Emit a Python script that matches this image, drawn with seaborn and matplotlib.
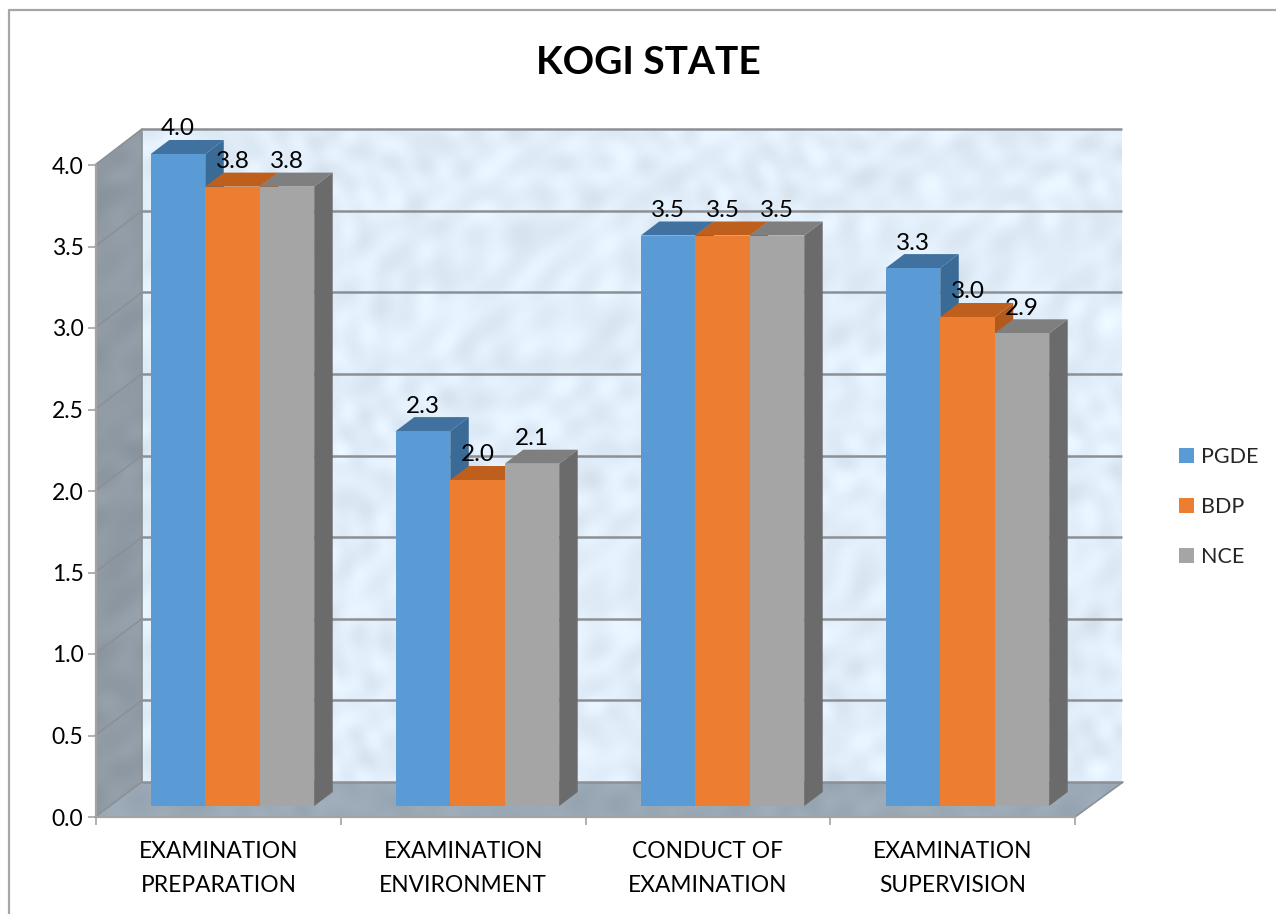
import numpy as np
import pandas as pd
import seaborn as sns
import matplotlib.pyplot as plt
from matplotlib.patches import Polygon

categories = ['EXAMINATION\nPREPARATION', 'EXAMINATION\nENVIRONMENT',
              'CONDUCT OF\nEXAMINATION', 'EXAMINATION\nSUPERVISION']
programmes = ['PGDE', 'BDP', 'NCE']
pgde = [4.0, 2.3, 3.5, 3.3]
bdp = [3.8, 2.0, 3.5, 3.0]
nce = [3.8, 2.1, 3.5, 2.9]
y_ticks = [0.0, 0.5, 1.0, 1.5, 2.0, 2.5, 3.0, 3.5, 4.0]

front_colors = ['#5B9BD5', '#ED7D31', '#A5A5A5']
top_colors = ['#41729F', '#BE5F1E', '#7F7F7F']
side_colors = ['#3A6A96', '#B25A1C', '#6B6B6B']
GRID = '#8C9094'
AXIS = '#A3A3A3'

W, H = 1276, 914

sns.set_theme(style='white')
plt.rcParams['font.family'] = ['Lato', 'DejaVu Sans']

fig = plt.figure(figsize=(W / 100, H / 100), dpi=100)


def px_axes(left, top, right, bottom, z):
    # axes placed by pixel edges of the picture
    a = fig.add_axes([left / W, 1 - bottom / H, (right - left) / W, (bottom - top) / H])
    a.set_zorder(z)
    a.patch.set_alpha(0)
    return a


def mottle(base, amount):
    # soft paper-like texture, many crossed waves so no plaid shows up
    yy, xx = np.mgrid[0:H // 2, 0:W // 2]
    waves = [(0.071, 0.193, 0.4), (0.233, 0.047, 1.9), (0.157, -0.121, 3.1), (-0.089, 0.271, 0.7),
             (0.313, 0.127, 2.2), (0.037, -0.347, 5.1), (0.401, -0.059, 4.3), (-0.211, -0.283, 1.3),
             (0.113, 0.029, 2.9), (0.019, 0.103, 0.1), (0.277, 0.367, 3.7), (-0.331, 0.173, 5.9)]
    wave = np.zeros(xx.shape)
    warp = np.sin(xx * 0.031 + 1) * 6 + np.sin(yy * 0.043) * 6
    for fx, fy, ph in waves:
        wave += np.sin(fx * (xx + warp) + fy * (yy - warp) + ph)
    wave = wave / np.abs(wave).max()
    rgb = np.array(base)[None, None, :] + wave[:, :, None] * amount
    return np.clip(rgb, 0, 255).astype(np.uint8)


# layer 1: frame, back wall, side wall and floor of the 3D box
bg = px_axes(0, 0, W, H, 0)
bg.set_axis_off()
shapes = [
    ([(142, 129), (1122, 129), (1122, 782), (142, 782)], (226, 238, 250), 15),
    ([(95, 165), (142, 129), (142, 782), (96, 817)], (144, 155, 165), 10),
    ([(96, 817), (142, 782), (1123, 782), (1075, 817)], (156, 170, 184), 10),
]
for pts, base, amount in shapes:
    im = bg.imshow(mottle(base, amount), extent=(0, W, H, 0), aspect='auto', zorder=1,
                   interpolation='bilinear')
    im.set_clip_path(Polygon(pts, transform=bg.transData))
bg.set_xlim(0, W)
bg.set_ylim(H, 0)

n = len(y_ticks)
for i in range(n):
    back_y = 782 - i * (782 - 129) / (n - 1)
    front_y = 817 - i * (817 - 165) / (n - 1)
    bg.plot([142, 1122], [back_y, back_y], color=GRID, lw=1.8, zorder=2, solid_capstyle='butt')
    bg.plot([95, 142], [front_y, back_y], color=GRID, lw=1.2, zorder=2)
bg.plot([142, 142], [129, 782], color=GRID, lw=1.2, zorder=2)
bg.plot([1075, 1123], [817, 782], color=GRID, lw=1.2, zorder=2)
bg.plot([9, 9, W], [H, 10, 10], color='#A6A6A6', lw=1.6, zorder=2)

# layer 2: the front plane carries the axes and their labels
front = px_axes(96, 165, 1075, 817, 1)
front.set_xlim(0, 4)
front.set_ylim(0, 4)
for s in ['top', 'right']:
    front.spines[s].set_visible(False)
for s in ['left', 'bottom']:
    front.spines[s].set_color(AXIS)
    front.spines[s].set_linewidth(1.6)
front.set_yticks(y_ticks)
front.set_yticklabels([f'{v:.1f}' for v in y_ticks], fontsize=16.5, color='black')
front.set_xticks(range(5))
front.set_xticklabels([])
front.set_xticks(np.arange(4) + 0.5, minor=True)
front.set_xticklabels(categories, minor=True, fontsize=16.4, color='black', linespacing=1.75)
front.tick_params(axis='both', which='major', length=6, width=1.2, color=AXIS, left=True, bottom=True)
front.tick_params(axis='y', pad=3)
front.tick_params(axis='x', which='minor', length=0, pad=17.5)

# layer 3: the bars, standing a little behind the front plane
df = pd.DataFrame({
    'category': categories * 3,
    'programme': [p for p in programmes for _ in categories],
    'score': pgde + bdp + nce,
})
ax = px_axes(110, 154, 1090, 806, 2)
sns.barplot(data=df, x='category', y='score', hue='programme', order=categories,
            hue_order=programmes, palette=front_colors, saturation=1, width=0.667,
            gap=0, linewidth=0, errorbar=None, ax=ax)
ax.set_xlim(-0.5, 3.5)
ax.set_ylim(0, 4)
ax.set_xlabel('')
ax.set_ylabel('')
ax.set_xticks([])
ax.set_yticks([])
for s in ax.spines.values():
    s.set_visible(False)

dx = 18.5 / 245
dy = 14 / 163
for j, container in enumerate(ax.containers):
    for bar in container:
        bar.set_zorder(3)
        x0, x1 = bar.get_x(), bar.get_x() + bar.get_width()
        h = bar.get_height()
        ax.add_patch(Polygon([(x1, 0), (x1 + dx, dy), (x1 + dx, h + dy), (x1, h)],
                             facecolor=side_colors[j], lw=0, zorder=2 + j * 0.1, clip_on=False))
        ax.add_patch(Polygon([(x0, h), (x0 + dx, h + dy), (x1 + dx, h + dy), (x1, h)],
                             facecolor=top_colors[j], lw=0, zorder=2.05 + j * 0.1, clip_on=False))
    labels = ax.bar_label(container, fmt='%.1f', padding=10.5, fontsize=17.5, color='black')
    for t in labels:
        t.set_zorder(6)

sns.move_legend(ax, 'center left', bbox_to_anchor=(1179 / W, 1 - 507 / H),
                bbox_transform=fig.transFigure, title=None, frameon=False,
                fontsize=15.5, handlelength=0.7, handleheight=0.7, handletextpad=0.33,
                labelspacing=1.38, borderpad=0, borderaxespad=0)

fig.text(648 / W, 1 - 63 / H, 'KOGI STATE', ha='center', va='center', fontsize=28,
         fontweight='bold', color='black')

fig.savefig('out.png', dpi=100)
